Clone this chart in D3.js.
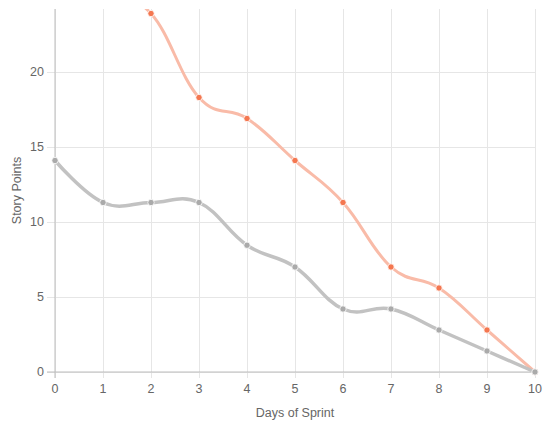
<!DOCTYPE html>
<html>
<head>
<meta charset="utf-8">
<script src="https://cdn.jsdelivr.net/npm/d3@7"></script>
<style>
  body { margin: 0; background: #fff; }
  text { font-family: "Liberation Sans", Arial, sans-serif; }
</style>
</head>
<body>
<div id="chart"></div>
<script>
// sprint days along x
const days = [0, 1, 2, 3, 4, 5, 6, 7, 8, 9, 10];
// red (actual) series, first two run off the top of the chart
const actual = [26.8, 25.3, 23.9, 18.3, 16.9, 14.1, 11.3, 7.0, 5.6, 2.8, 0];
// grey series
const ideal = [14.1, 11.3, 11.3, 11.3, 8.45, 7.0, 4.2, 4.2, 2.8, 1.4, 0];
const yTicks = [0, 5, 10, 15, 20];

const width = 549;
const height = 427;
const marginTop = 9;
const marginRight = 14;
const marginBottom = 55;
const marginLeft = 55;

const x = d3.scaleLinear()
  .domain([0, 10])
  .range([marginLeft, width - marginRight]);

const y = d3.scaleLinear()
  .domain([0, 24.2])
  .range([height - marginBottom, marginTop]);

const svg = d3.create("svg").attr("width", width).attr("height", height);

// clip so the red line gets cut at the top
svg.append("clipPath").attr("id", "plot-clip")
  .append("rect")
  .attr("x", marginLeft - 5)
  .attr("y", marginTop)
  .attr("width", width - marginLeft - marginRight + 10)
  .attr("height", height - marginTop - marginBottom + 5);

// vertical grid (with tick marks below the axis)
svg.append("g")
  .attr("transform", `translate(0,${height - marginBottom})`)
  .call(d3.axisBottom(x).tickValues(days).tickSizeOuter(0).tickFormat(""))
  .call((g) => g.select(".domain").remove())
  .call((g) => g.selectAll(".tick line").attr("stroke", "#e6e6e6").attr("y2", -(height - marginTop - marginBottom)).attr("y1", 6));

// horizontal grid
svg.append("g")
  .attr("transform", `translate(${marginLeft},0)`)
  .call(d3.axisLeft(y).tickValues(yTicks).tickFormat(""))
  .call((g) => g.select(".domain").remove())
  .call((g) => g.selectAll(".tick line").attr("stroke", "#e6e6e6").attr("x1", -8).attr("x2", width - marginLeft - marginRight));

// axis lines
svg.append("line")
  .attr("x1", marginLeft).attr("x2", marginLeft)
  .attr("y1", marginTop).attr("y2", height - marginBottom + 6)
  .attr("stroke", "#bdbdbd");
svg.append("line")
  .attr("x1", marginLeft - 8).attr("x2", width - marginRight)
  .attr("y1", y(0)).attr("y2", y(0))
  .attr("stroke", "#bdbdbd");

// tick labels
svg.append("g")
  .selectAll("text")
  .data(days)
  .join("text")
  .attr("x", (d) => x(d))
  .attr("y", height - marginBottom + 21)
  .attr("text-anchor", "middle")
  .attr("font-size", 12.5)
  .attr("fill", "#666")
  .text((d) => d);

svg.append("g")
  .selectAll("text")
  .data(yTicks)
  .join("text")
  .attr("x", marginLeft - 11)
  .attr("y", (d) => y(d) + 4)
  .attr("text-anchor", "end")
  .attr("font-size", 12.5)
  .attr("fill", "#666")
  .text((d) => d);

// axis titles
svg.append("text")
  .attr("x", (marginLeft + width - marginRight) / 2)
  .attr("y", 417)
  .attr("text-anchor", "middle")
  .attr("font-size", 12.5)
  .attr("fill", "#666")
  .text("Days of Sprint");

svg.append("text")
  .attr("transform", `translate(21,${(marginTop + height - marginBottom) / 2}) rotate(-90)`)
  .attr("text-anchor", "middle")
  .attr("font-size", 12.5)
  .attr("fill", "#666")
  .text("Story Points");

// lines, smoothed like chart.js tension
const line = d3.line()
  .x((d, i) => x(days[i]))
  .y((d) => y(d))
  .curve(d3.curveCardinal.tension(-0.2));

const plot = svg.append("g").attr("clip-path", "url(#plot-clip)");

// red first, grey drawn on top (like chart.js dataset order)
function drawSeries(values, lineColor, lineWidth, dotColor) {
  plot.append("path")
    .datum(values)
    .attr("fill", "none")
    .attr("stroke", lineColor)
    .attr("stroke-width", lineWidth)
    .attr("d", line);

  plot.append("g")
    .selectAll("circle")
    .data(values)
    .join("circle")
    .attr("cx", (d, i) => x(days[i]))
    .attr("cy", (d) => y(d))
    .attr("r", 3.2)
    .attr("fill", dotColor)
    .attr("stroke", "#fff")
    .attr("stroke-width", 0.8);
}

drawSeries(actual, "#f9bba8", 3, "#f47750");
drawSeries(ideal, "#c2c2c2", 3.5, "#aaaaaa");

document.getElementById("chart").append(svg.node());
</script>
</body>
</html>
